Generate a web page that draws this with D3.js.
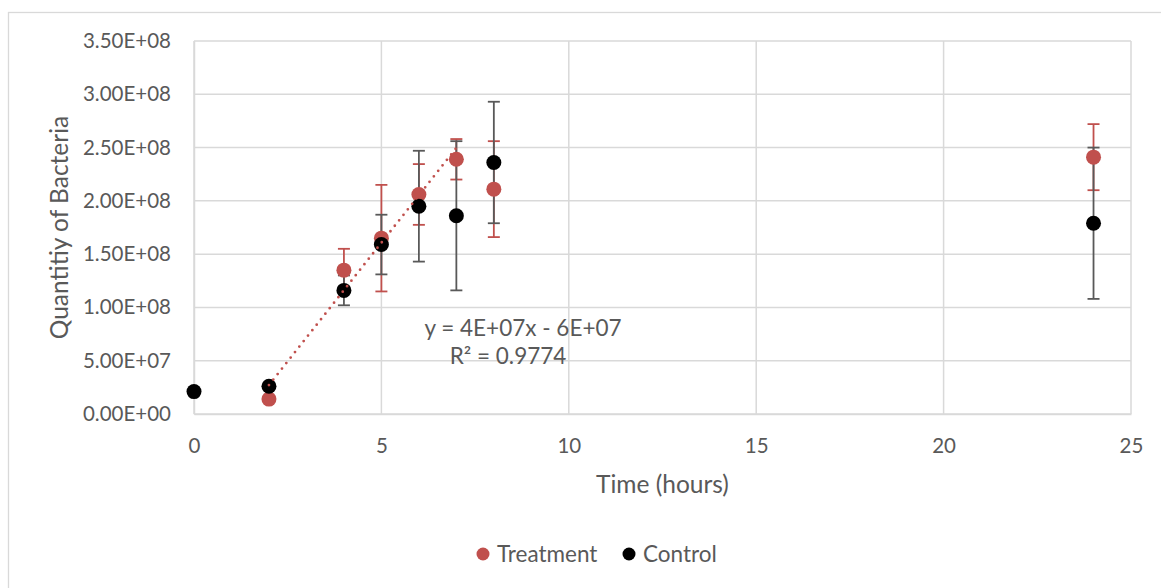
<!DOCTYPE html>
<html>
<head>
<meta charset="utf-8">
<script src="https://cdn.jsdelivr.net/npm/d3@7"></script>
<style>
  html, body { margin: 0; padding: 0; background: #fff; }
  svg { display: block; font-family: Lato, "Open Sans", sans-serif; }
</style>
</head>
<body>
<svg id="chart" width="1161" height="588"></svg>
<script>
// ---- data ----
const treatmentTimes = [2, 4, 5, 6, 7, 8, 24];
const treatmentValues = [1.4e7, 1.35e8, 1.65e8, 2.06e8, 2.39e8, 2.11e8, 2.41e8];
const treatmentErrors = [0, 2.0e7, 5.0e7, 2.85e7, 1.9e7, 4.5e7, 3.1e7];

const controlTimes = [0, 2, 4, 5, 6, 7, 8, 24];
const controlValues = [2.1e7, 2.6e7, 1.16e8, 1.59e8, 1.95e8, 1.86e8, 2.36e8, 1.79e8];
const controlErrors = [0, 0, 1.4e7, 2.8e7, 5.2e7, 7.0e7, 5.7e7, 7.1e7];

const xTickValues = [0, 5, 10, 15, 20, 25];
const yTickValues = [0, 5e7, 1e8, 1.5e8, 2e8, 2.5e8, 3e8, 3.5e8];
const yTickLabels = ["0.00E+00", "5.00E+07", "1.00E+08", "1.50E+08", "2.00E+08", "2.50E+08", "3.00E+08", "3.50E+08"];

const trendRange = [2, 7];
const trendEquation = "y = 4E+07x - 6E+07";
const trendR2 = "R² = 0.9774";

const seriesNames = ["Treatment", "Control"];

// ---- layout ----
const svg = d3.select("#chart");
const grid = "#d9d9d9";
const textCol = "#595959";
const red = "#c0504d";

const x = d3.scaleLinear().domain([0, 25]).range([194, 1131]);
const y = d3.scaleLinear().domain([0, 3.5e8]).range([414, 41]);

// outer chart frame
svg.append("rect").attr("x", 8.5).attr("y", 12.5).attr("width", 1200).attr("height", 620)
  .attr("fill", "none").attr("stroke", grid).attr("stroke-width", 1.3);

// gridlines
svg.append("g").selectAll("line").data(yTickValues).join("line")
  .attr("x1", x(0)).attr("x2", x(25)).attr("y1", d => y(d)).attr("y2", d => y(d))
  .attr("stroke", grid).attr("stroke-width", 1.5);
svg.append("g").selectAll("line").data(xTickValues).join("line")
  .attr("y1", y(0)).attr("y2", y(3.5e8)).attr("x1", d => x(d)).attr("x2", d => x(d))
  .attr("stroke", grid).attr("stroke-width", 1.5);

// axes
const xAxis = svg.append("g").attr("transform", `translate(0,${y(0)})`)
  .call(d3.axisBottom(x).tickValues(xTickValues).tickSize(0).tickFormat(d3.format("d")));
xAxis.selectAll("text").attr("y", 39).attr("dy", 0);
const yAxis = svg.append("g").attr("transform", `translate(${x(0)},0)`)
  .call(d3.axisLeft(y).tickValues(yTickValues).tickSize(0).tickPadding(23)
    .tickFormat((d, i) => yTickLabels[i]));
[xAxis, yAxis].forEach(a => {
  a.select(".domain").attr("stroke", grid).attr("stroke-width", 1.5);
  a.selectAll("text").attr("fill", textCol).style("font-size", "20.5px").style("font-family", "Lato, sans-serif");
});

// axis titles
svg.append("text").attr("x", (x(0) + x(25)) / 2).attr("y", 493)
  .attr("text-anchor", "middle").attr("fill", textCol).style("font-size", "24.5px").text("Time (hours)");
svg.append("text").attr("transform", `translate(68,${(y(0) + y(3.5e8)) / 2}) rotate(-90)`)
  .attr("text-anchor", "middle").attr("fill", textCol).style("font-size", "24.5px").text("Quantitiy of Bacteria");

// error bars
function errorBars(times, vals, errs, color) {
  const g = svg.append("g").attr("stroke", color).attr("stroke-width", 1.8);
  times.forEach((t, i) => {
    if (!errs[i]) return;
    const cx = x(t), y1 = y(vals[i] + errs[i]), y2 = y(vals[i] - errs[i]);
    g.append("line").attr("x1", cx).attr("x2", cx).attr("y1", y1).attr("y2", y2);
    g.append("line").attr("x1", cx - 6).attr("x2", cx + 6).attr("y1", y1).attr("y2", y1);
    g.append("line").attr("x1", cx - 6).attr("x2", cx + 6).attr("y1", y2).attr("y2", y2);
  });
}
errorBars(treatmentTimes, treatmentValues, treatmentErrors, red);
errorBars(controlTimes, controlValues, controlErrors, "#595959");

// markers
svg.append("g").selectAll("circle").data(treatmentTimes).join("circle")
  .attr("cx", d => x(d)).attr("cy", (d, i) => y(treatmentValues[i])).attr("r", 7.5).attr("fill", red);
svg.append("g").selectAll("circle").data(controlTimes).join("circle")
  .attr("cx", d => x(d)).attr("cy", (d, i) => y(controlValues[i])).attr("r", 7.5).attr("fill", "#000");

// linear trendline (least squares on treatment points within trendRange)
const pts = treatmentTimes.map((t, i) => [t, treatmentValues[i]]).filter(p => p[0] >= trendRange[0] && p[0] <= trendRange[1]);
const mx = d3.mean(pts, p => p[0]), my = d3.mean(pts, p => p[1]);
const slope = d3.sum(pts, p => (p[0] - mx) * (p[1] - my)) / d3.sum(pts, p => (p[0] - mx) ** 2);
const intercept = my - slope * mx;
svg.append("line")
  .attr("x1", x(trendRange[0])).attr("y1", y(slope * trendRange[0] + intercept))
  .attr("x2", x(trendRange[1])).attr("y2", y(slope * trendRange[1] + intercept))
  .attr("stroke", red).attr("stroke-width", 2.8).attr("stroke-linecap", "round")
  .attr("stroke-dasharray", "0 7");

// trendline label
svg.append("text").attr("x", 523).attr("y", 336).attr("text-anchor", "middle")
  .attr("fill", textCol).style("font-size", "22.5px").text(trendEquation);
svg.append("text").attr("x", 508).attr("y", 364).attr("text-anchor", "middle")
  .attr("fill", textCol).style("font-size", "22.5px").text(trendR2);

// legend
const legendItems = [{ name: seriesNames[0], color: red, cx: 483 }, { name: seriesNames[1], color: "#000", cx: 629 }];
const lg = svg.append("g");
legendItems.forEach(it => {
  lg.append("circle").attr("cx", it.cx).attr("cy", 554).attr("r", 6.5).attr("fill", it.color);
  lg.append("text").attr("x", it.cx + 14).attr("y", 562).attr("fill", textCol)
    .style("font-size", "22.5px").text(it.name);
});
</script>
</body>
</html>
